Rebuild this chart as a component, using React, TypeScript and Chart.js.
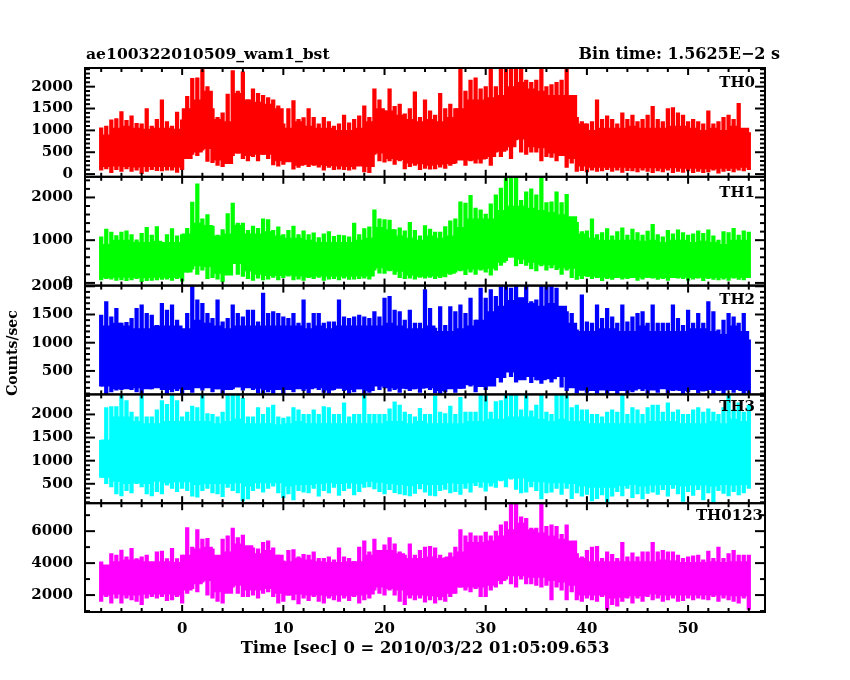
import React, { useEffect, useRef } from 'react';
import { Chart, registerables } from 'chart.js';

Chart.register(...registerables);

// spike bins, extremes of the noise
const times = [
  -8, -7.5, -7, -6.5, -6, -5.5, -5, -4.5, -4, -3.5, -3, -2.5, -2, -1.5, -1, -0.5,
  0, 0.5, 1, 1.5, 2, 2.5, 3, 3.5, 4, 4.5, 5, 5.5, 6, 6.5, 7, 7.5, 8, 8.5, 9, 9.5,
  10, 10.5, 11, 11.5, 12, 12.5, 13, 13.5, 14, 14.5, 15, 15.5, 16, 16.5, 17, 17.5, 18, 18.5, 19, 19.5,
  20, 20.5, 21, 21.5, 22, 22.5, 23, 23.5, 24, 24.5, 25, 25.5, 26, 26.5, 27, 27.5, 28, 28.5, 29, 29.5,
  30, 30.5, 31, 31.5, 32, 32.5, 33, 33.5, 34, 34.5, 35, 35.5, 36, 36.5, 37, 37.5, 38, 38.5, 39, 39.5,
  40, 40.5, 41, 41.5, 42, 42.5, 43, 43.5, 44, 44.5, 45, 45.5, 46, 46.5, 47, 47.5, 48, 48.5, 49, 49.5,
  50, 50.5, 51, 51.5, 52, 52.5, 53, 53.5, 54, 54.5, 55, 55.5, 56,
];

// solid band of each light curve, one value per second
const coreTimes = [
  -7.5, -6.5, -5.5, -4.5, -3.5, -2.5, -1.5, -0.5,
  0.5, 1.5, 2.5, 3.5, 4.5, 5.5, 6.5, 7.5, 8.5, 9.5,
  10.5, 11.5, 12.5, 13.5, 14.5, 15.5, 16.5, 17.5, 18.5, 19.5,
  20.5, 21.5, 22.5, 23.5, 24.5, 25.5, 26.5, 27.5, 28.5, 29.5,
  30.5, 31.5, 32.5, 33.5, 34.5, 35.5, 36.5, 37.5, 38.5, 39.5,
  40.5, 41.5, 42.5, 43.5, 44.5, 45.5, 46.5, 47.5, 48.5, 49.5,
  50.5, 51.5, 52.5, 53.5, 54.5, 55.5,
];

const th0High = [
  1060, 1100, 1240, 1270, 1430, 1230, 1330, 1160, 1150, 1500, 1100, 1250, 1700, 1200, 1100, 1420,
  1240, 1780, 2190, 2200, 2390, 2000, 1500, 1300, 1400, 1830, 2370, 1900, 2340, 1700, 1950, 1850, 1800, 1750, 1700, 1560,
  1150, 1500, 1680, 1250, 1290, 1500, 1300, 1150, 1300, 1200, 1100, 1150, 1350, 1170, 1250, 1330, 1560, 1300, 1950, 1700,
  1450, 1950, 1550, 1600, 1380, 1500, 1880, 1300, 1700, 1450, 1350, 1850, 1500, 1600, 1500, 2420, 1900, 2150, 2200, 1950,
  2000, 2400, 2000, 2420, 2420, 2420, 2420, 2420, 2150, 2100, 2150, 2420, 2000, 2050, 2100, 2150, 2420, 1780, 1300, 1200,
  1150, 1200, 1700, 1250, 1330, 1250, 1150, 1400, 1250, 1350, 1200, 1250, 1350, 1550, 1250, 1200, 1500, 1520, 1400, 1350,
  1200, 1250, 1200, 1150, 1450, 1150, 1200, 1300, 1350, 1250, 1620, 1000, 950,
];
const th0Low = [
  90, 120, 30, 100, 60, 120, 60, 90, 10, 60, 100, 80, 70, 90, 90, 40,
  100, 350, 450, 420, 550, 290, 260, 200, 170, 350, 420, 480, 350, 300, 400, 300, 450, 350, 210, 180,
  220, 300, 110, 150, 210, 170, 200, 160, 90, 150, 100, 110, 100, 90, 110, 310, 50, 30, 450, 300,
  270, 300, 220, 300, 120, 170, 200, 100, 130, 110, 120, 160, 130, 200, 250, 350, 200, 300, 250, 250,
  350, 200, 500, 400, 550, 350, 780, 500, 450, 500, 500, 300, 400, 380, 300, 430, 150, 250, 60, 80,
  50, 90, 60, 70, 100, 60, 90, 40, 80, 70, 50, 90, 60, 30, 70, 50, 90, 30, 60, 40,
  70, 30, 60, 30, 50, 90, 20, 60, 80, 50, 90, 70, 100,
];
const th0CoreHigh = [
  900, 1050, 1100, 1050, 1030, 1050, 1050, 1030,
  1500, 1700, 1900, 1250, 1200, 1850, 1700, 1650, 1600, 1500,
  1050, 1200, 1100, 1050, 1050, 1000, 1000, 1050, 1200, 1500,
  1450, 1350, 1250, 1200, 1250, 1200, 1300, 1500, 1700, 1700,
  1750, 1800, 2000, 2100, 1950, 1900, 1800, 1800, 1800, 1150,
  1000, 1050, 1050, 1050, 1100, 1050, 1050, 1050, 1100, 1100,
  1050, 1000, 1050, 1000, 1100, 1050,
];
const th0CoreLow = [
  170, 180, 170, 160, 170, 170, 170, 160,
  350, 500, 580, 320, 240, 480, 420, 450, 450, 300,
  280, 200, 220, 210, 190, 180, 170, 180, 170, 480,
  350, 330, 250, 230, 200, 220, 240, 320, 320, 340,
  400, 520, 620, 800, 620, 600, 480, 420, 350, 180,
  150, 150, 150, 150, 140, 140, 140, 130, 140, 130,
  130, 120, 120, 130, 130, 150,
];

const th1High = [
  1080, 1260, 1190, 1110, 1190, 1220, 1130, 1010, 1160, 1300, 1120, 1320, 930, 1130, 1270, 1100,
  1130, 1280, 1890, 2320, 1500, 1600, 1330, 1120, 1250, 1620, 1870, 1400, 1400, 1230, 1330, 1280, 1500, 1480, 1230, 1310,
  1130, 1230, 1330, 1130, 1220, 1130, 1170, 1060, 1150, 1200, 1090, 1120, 1110, 1080, 1400, 1130, 1270, 1310, 1710, 1500,
  1480, 1470, 1250, 1290, 1220, 1420, 1230, 1100, 1340, 1260, 1190, 1190, 1320, 1450, 1500, 1900, 1870, 2050, 1750, 1710,
  1610, 1850, 2060, 2220, 2480, 2460, 2460, 1930, 2130, 2200, 2060, 2470, 1880, 1900, 2130, 1880, 2070, 1400, 1420, 1200,
  1220, 1500, 1130, 1180, 1270, 1100, 1200, 1290, 1120, 1260, 1180, 1120, 1210, 1370, 1130, 1080, 1230, 1150, 1240, 1180,
  1120, 1150, 1220, 1160, 1240, 1100, 1000, 1200, 1180, 1280, 1120, 1220, 1190,
];
const th1Low = [
  70, 100, 90, 60, 70, 50, 70, 100, 30, 50, 60, 70, 80, 90, 60, 100,
  40, 250, 320, 200, 300, 100, 120, 90, 30, 300, 540, 200, 150, 100, 60, 110, 70, 90, 130, 70,
  120, 160, 70, 90, 60, 120, 100, 130, 60, 90, 100, 70, 110, 80, 90, 100, 110, 90, 300, 230,
  220, 280, 200, 120, 100, 110, 90, 130, 110, 130, 100, 120, 140, 200, 250, 280, 190, 250, 200, 300,
  250, 180, 300, 410, 520, 600, 400, 450, 410, 330, 280, 400, 300, 350, 310, 200, 300, 120, 80, 100,
  150, 100, 120, 50, 100, 80, 120, 90, 100, 120, 60, 90, 130, 110, 80, 100, 60, 120, 110, 100,
  60, 90, 110, 50, 100, 80, 70, 90, 60, 110, 80, 70, 120,
];
const th1CoreHigh = [
  900, 1000, 1000, 950, 950, 980, 950, 950,
  1150, 1400, 1350, 1100, 1150, 1350, 1150, 1150, 1200, 1100,
  1050, 1050, 1000, 950, 950, 950, 950, 1000, 1050, 1300,
  1250, 1100, 1050, 1000, 1100, 1050, 1100, 1300, 1500, 1500,
  1500, 1700, 1800, 1800, 1750, 1700, 1650, 1600, 1550, 1150,
  1050, 1000, 1000, 1000, 1000, 980, 1000, 950, 1000, 1000,
  950, 980, 950, 900, 1000, 1000,
];
const th1CoreLow = [
  120, 130, 130, 120, 120, 130, 120, 130,
  250, 400, 380, 220, 180, 450, 280, 200, 170, 170,
  180, 160, 140, 160, 150, 150, 150, 160, 160, 350,
  300, 270, 180, 150, 160, 160, 220, 300, 320, 320,
  340, 480, 600, 550, 480, 430, 420, 350, 340, 170,
  150, 130, 120, 130, 120, 130, 130, 120, 120, 130,
  120, 120, 120, 120, 130, 120,
];

const th2High = [
  1490, 1730, 1460, 1610, 1350, 1360, 1430, 1610, 1670, 1520, 1490, 1310, 1700, 1580, 1670, 1400,
  1200, 1520, 2010, 1760, 1700, 1520, 1430, 1760, 1370, 1430, 1670, 1520, 1460, 1580, 1580, 1370, 1880, 1520, 1550, 1520,
  1460, 1430, 1520, 1350, 1760, 1350, 1520, 1520, 1350, 1370, 1370, 1760, 1460, 1430, 1460, 1490, 1460, 1430, 1550, 1460,
  1790, 1820, 1580, 1550, 1400, 1580, 1350, 1350, 1940, 1610, 1260, 1640, 1310, 1640, 1550, 1670, 1520, 1790, 1400, 1970,
  1790, 1940, 1820, 1990, 2010, 1970, 2010, 1790, 2000, 1730, 1760, 2010, 2000, 2010, 1970, 1520, 1550, 1520, 1230, 1850,
  1370, 1350, 1670, 1430, 1610, 1460, 1350, 1670, 1370, 1460, 1520, 1550, 1350, 1670, 1350, 1350, 1350, 1670, 1430, 1310,
  1580, 1350, 1520, 1350, 1730, 1550, 1230, 1400, 1520, 1460, 1350, 1520, 1050,
];
const th2Low = [
  230, 90, 130, 160, 170, 270, 170, 130, 90, 200, 180, 250, 170, 100, 130, 150,
  90, 200, 120, 260, 160, 210, 130, 180, 100, 260, 180, 220, 160, 290, 170, 110, 100, 130, 100, 190,
  90, 180, 130, 200, 150, 110, 200, 170, 120, 90, 170, 210, 150, 100, 130, 180, 100, 120, 290, 170,
  200, 140, 170, 120, 200, 150, 180, 120, 250, 170, 110, 90, 130, 280, 120, 190, 280, 230, 130, 260,
  170, 320, 400, 300, 620, 400, 300, 350, 450, 290, 340, 280, 400, 300, 520, 210, 150, 260, 110, 160,
  120, 150, 100, 200, 100, 170, 90, 150, 100, 130, 230, 150, 90, 200, 120, 260, 110, 150, 170, 90,
  130, 190, 110, 140, 210, 90, 150, 90, 200, 120, 170, 100, 90,
];
const th2CoreHigh = [
  1300, 1350, 1300, 1250, 1250, 1300, 1300, 1300,
  1250, 1400, 1350, 1300, 1250, 1300, 1300, 1300, 1300, 1300,
  1300, 1300, 1250, 1300, 1250, 1300, 1300, 1300, 1300, 1300,
  1350, 1300, 1250, 1250, 1300, 1200, 1200, 1250, 1300, 1400,
  1550, 1650, 1750, 1800, 1700, 1650, 1700, 1650, 1350, 1200,
  1200, 1250, 1250, 1200, 1200, 1300, 1200, 1200, 1200, 1200,
  1250, 1250, 1200, 1150, 1300, 1200,
];
const th2CoreLow = [
  230, 180, 180, 200, 180, 200, 170, 180,
  170, 200, 200, 180, 170, 210, 200, 190, 170, 170,
  170, 180, 180, 200, 160, 190, 170, 180, 150, 230,
  200, 190, 180, 190, 200, 150, 180, 190, 250, 220,
  230, 380, 480, 340, 400, 340, 360, 400, 200, 160,
  150, 160, 150, 150, 160, 180, 160, 180, 160, 150,
  170, 150, 170, 160, 170, 150,
];

const th3High = [
  1440, 2150, 2170, 2170, 2430, 2300, 2050, 1950, 2430, 1950, 1950, 2100, 2300, 2220, 2430, 2300,
  1950, 2050, 2180, 2150, 2430, 2020, 2000, 1950, 2050, 2430, 2430, 2430, 2350, 1950, 1950, 2150, 2000, 2150, 2200, 1950,
  1920, 1950, 2150, 2100, 2000, 2000, 2100, 2000, 2170, 2150, 2000, 2000, 2250, 1950, 2000, 2000, 2430, 2000, 2000, 2000,
  2000, 2120, 2270, 2200, 2050, 2000, 1950, 2130, 2000, 2000, 2400, 2050, 2020, 2180, 2000, 2370, 2050, 2050, 2050, 2430,
  2430, 2050, 2280, 2300, 2430, 2430, 2430, 2100, 2430, 2080, 2200, 2430, 2050, 2000, 2430, 2430, 2430, 2150, 2200, 2100,
  2100, 2000, 2000, 1950, 2050, 2100, 2050, 2430, 2000, 2150, 2100, 2000, 2150, 2200, 2200, 2050, 2250, 2050, 2100, 2000,
  2000, 2100, 2150, 2050, 2120, 2050, 2000, 2150, 2430, 2100, 2250, 2050, 2200,
];
const th3Low = [
  640, 500, 430, 280, 240, 350, 300, 500, 430, 280, 240, 330, 280, 470, 400, 330,
  400, 350, 230, 210, 350, 400, 300, 280, 220, 420, 350, 300, 130, 170, 350, 400, 320, 400, 450, 300,
  200, 280, 150, 350, 320, 300, 400, 230, 350, 300, 420, 250, 350, 400, 260, 330, 420, 430, 390, 330,
  280, 370, 310, 280, 260, 240, 290, 390, 320, 250, 240, 350, 380, 300, 330, 270, 400, 320, 460, 420,
  340, 450, 420, 560, 430, 600, 380, 300, 320, 430, 350, 170, 300, 320, 400, 270, 400, 180, 300, 230,
  270, 130, 180, 260, 100, 230, 330, 240, 400, 200, 280, 170, 290, 320, 270, 370, 230, 400, 280, 120,
  330, 250, 370, 150, 300, 100, 350, 290, 240, 330, 260, 300, 400,
];
const th3CoreHigh = [
  1450, 1950, 1950, 1850, 1800, 1800, 1850, 1850,
  1850, 1850, 1850, 1800, 1850, 1900, 1800, 1800, 1800, 1780,
  1800, 1850, 1800, 1800, 1800, 1800, 1800, 1800, 1800, 1800,
  1850, 1850, 1800, 1850, 1800, 1800, 1800, 1800, 1850, 1850,
  1900, 1900, 1950, 1950, 1950, 1900, 1850, 1900, 1850, 1850,
  1800, 1800, 1800, 1800, 1800, 1800, 1850, 1850, 1850, 1800,
  1800, 1800, 1850, 1800, 1900, 1850,
];
const th3CoreLow = [
  640, 550, 500, 520, 500, 550, 520, 540,
  540, 480, 500, 500, 500, 520, 450, 520, 520, 520,
  450, 480, 480, 500, 520, 500, 520, 500, 550, 530,
  500, 480, 460, 500, 480, 480, 520, 500, 520, 540,
  520, 580, 620, 620, 550, 540, 520, 520, 500, 450,
  420, 420, 420, 460, 480, 450, 470, 480, 480, 450,
  470, 470, 450, 480, 470, 480,
];

const th0123High = [
  4080, 3770, 4600, 4500, 4810, 4400, 4920, 4290, 4400, 4500, 3980, 4710, 4750, 4290, 4920, 4290,
  4500, 6230, 5000, 6100, 5500, 5550, 4900, 4300, 5500, 5700, 6200, 5600, 5750, 4800, 4950, 4900, 5300, 5400, 4950, 4500,
  4150, 4800, 4850, 4400, 4550, 4500, 4700, 4300, 4300, 4400, 4200, 4950, 4400, 4300, 4100, 5000, 5400, 4700, 5500, 4700,
  5150, 5600, 5200, 4700, 4500, 5200, 4500, 4800, 5000, 5050, 4950, 4500, 4350, 4650, 5000, 6100, 5700, 5900, 5700, 5700,
  5950, 5700, 6000, 6400, 6600, 7700, 7700, 6900, 6800, 6200, 6200, 7700, 6300, 6400, 6300, 5800, 6400, 5100, 4600, 4400,
  4800, 5000, 5050, 4300, 4700, 4550, 4300, 5300, 4400, 4650, 4400, 4700, 4700, 5300, 4700, 4800, 4700, 4700, 4500, 4300,
  4400, 4450, 4500, 4200, 4750, 4300, 5000, 4300, 4600, 4800, 4500, 4500, 4500,
];
const th0123Low = [
  1600, 1900, 1500, 1800, 1500, 1800, 1700, 1600, 1400, 1800, 1900, 1800, 1900, 1650, 1700, 1900,
  1500, 2100, 2400, 2200, 2800, 2000, 1800, 1600, 1500, 2300, 2500, 2100, 1900, 1900, 2000, 1800, 2100, 2200, 1900, 1500,
  1600, 2000, 1700, 1450, 1800, 1650, 1900, 1600, 1500, 1800, 1700, 1600, 1800, 1650, 1900, 1500, 1700, 1800, 2300, 2100,
  2000, 2300, 2000, 1600, 1400, 1800, 1700, 1800, 1550, 1700, 1500, 1700, 1600, 1900, 2100, 2500, 2300, 2200, 2400, 1900,
  1900, 2300, 2500, 2700, 3000, 2700, 2500, 3000, 2700, 2700, 2600, 2500, 2600, 1700, 2500, 2300, 1700, 2200, 1700, 1600,
  1800, 1700, 1600, 1900, 1100, 1400, 1300, 1600, 1800, 1500, 1800, 1600, 1900, 1700, 1800, 1600, 1700, 1800, 1600, 1650,
  1800, 1700, 1800, 1750, 1700, 1900, 1600, 1800, 1700, 1600, 1500, 1800, 1100,
];
const th0123CoreHigh = [
  3900, 4100, 4200, 4200, 4100, 4100, 4100, 4050,
  4500, 4900, 5000, 4500, 4700, 5200, 5100, 4600, 4800, 4500,
  4100, 4300, 4200, 4100, 4050, 4050, 4100, 4100, 4500, 4800,
  4800, 4600, 4300, 4300, 4400, 4300, 4400, 4700, 5300, 5300,
  5400, 5700, 6100, 6500, 6100, 5900, 5700, 5500, 5400, 4300,
  4100, 4100, 4100, 4100, 4100, 4100, 4100, 4200, 4150, 4050,
  4050, 4050, 4100, 4050, 4100, 4100,
];
const th0123CoreLow = [
  2000, 2050, 2000, 2000, 2050, 2050, 2050, 2000,
  2300, 2700, 2900, 2200, 2100, 2600, 2300, 2300, 2400, 2100,
  2000, 2050, 2000, 2000, 1950, 2000, 1950, 2000, 2050, 2500,
  2400, 2300, 2000, 2000, 1950, 1900, 2100, 2500, 2500, 2500,
  2600, 2900, 3200, 3200, 3100, 3100, 2900, 2800, 2600, 2000,
  2000, 2000, 1800, 1850, 1950, 1950, 2050, 2000, 2000, 2000,
  2000, 2000, 2000, 2000, 1950, 1950,
];

const xMajorTicks = [0, 10, 20, 30, 40, 50];
const xMinorTicks = [-8, -6, -4, -2, 2, 4, 6, 8, 12, 14, 16, 18, 22, 24, 26, 28, 32, 34, 36, 38, 42, 44, 46, 48, 52, 54, 56];

const th0Major = [0, 500, 1000, 1500, 2000];
const th0Minor = [100, 200, 300, 400, 600, 700, 800, 900, 1100, 1200, 1300, 1400, 1600, 1700, 1800, 1900, 2100, 2200, 2300, 2400];
const th1Major = [0, 1000, 2000];
const th1Minor = [200, 400, 600, 800, 1200, 1400, 1600, 1800, 2200, 2400];
const th2Major = [500, 1000, 1500, 2000];
const th2Minor = [100, 200, 300, 400, 600, 700, 800, 900, 1100, 1200, 1300, 1400, 1600, 1700, 1800, 1900];
const th3Major = [500, 1000, 1500, 2000];
const th3Minor = [100, 200, 300, 400, 600, 700, 800, 900, 1100, 1200, 1300, 1400, 1600, 1700, 1800, 1900, 2100, 2200, 2300, 2400];
const th0123Major = [2000, 4000, 6000];
const th0123Minor = [1000, 3000, 5000, 7000];

const FONT = '"DejaVu Serif", serif';

const panels = [
  { id: 'y0', name: 'TH0', color: '#ff0000', high: th0High, low: th0Low, coreHigh: th0CoreHigh, coreLow: th0CoreLow, min: -62, max: 2427, major: th0Major, minor: th0Minor, labelRight: 755, labelY: 83 },
  { id: 'y1', name: 'TH1', color: '#00ff00', high: th1High, low: th1Low, coreHigh: th1CoreHigh, coreLow: th1CoreLow, min: -63, max: 2483, major: th1Major, minor: th1Minor, labelRight: 755, labelY: 193 },
  { id: 'y2', name: 'TH2', color: '#0000ff', high: th2High, low: th2Low, coreHigh: th2CoreHigh, coreLow: th2CoreLow, min: 84, max: 2012, major: th2Major, minor: th2Minor, labelRight: 755, labelY: 300 },
  { id: 'y3', name: 'TH3', color: '#00ffff', high: th3High, low: th3Low, coreHigh: th3CoreHigh, coreLow: th3CoreLow, min: 80, max: 2433, major: th3Major, minor: th3Minor, labelRight: 755, labelY: 407 },
  { id: 'y4', name: 'TH0123', color: '#ff00ff', high: th0123High, low: th0123Low, coreHigh: th0123CoreHigh, coreLow: th0123CoreLow, min: 940, max: 7750, major: th0123Major, minor: th0123Minor, labelRight: 763, labelY: 516 },
];

// ticks point inwards on all four sides of every panel, chart.js can't do that itself
const framePlugin = {
  id: 'frame',
  afterDatasetsDraw(chart: any) {
    const { ctx, chartArea, scales } = chart;
    const x = scales.x;
    ctx.save();
    ctx.strokeStyle = '#000';
    ctx.fillStyle = '#000';
    ctx.lineWidth = 2;

    const line = (x1: number, y1: number, x2: number, y2: number) => {
      ctx.beginPath();
      ctx.moveTo(x1, y1);
      ctx.lineTo(x2, y2);
      ctx.stroke();
    };

    panels.forEach((p) => {
      const y = scales[p.id];
      ctx.strokeRect(chartArea.left, y.top, chartArea.right - chartArea.left, y.bottom - y.top);
      xMajorTicks.forEach((v) => {
        const px = x.getPixelForValue(v);
        line(px, y.top, px, y.top + 7);
        line(px, y.bottom, px, y.bottom - 7);
      });
      xMinorTicks.forEach((v) => {
        const px = x.getPixelForValue(v);
        line(px, y.top, px, y.top + 4);
        line(px, y.bottom, px, y.bottom - 4);
      });
      p.major.forEach((v) => {
        const py = y.getPixelForValue(v);
        line(chartArea.left, py, chartArea.left + 10, py);
        line(chartArea.right, py, chartArea.right - 10, py);
      });
      p.minor.forEach((v) => {
        const py = y.getPixelForValue(v);
        line(chartArea.left, py, chartArea.left + 5, py);
        line(chartArea.right, py, chartArea.right - 5, py);
      });
      ctx.font = `bold 15px ${FONT}`;
      ctx.textAlign = 'right';
      ctx.textBaseline = 'middle';
      ctx.fillText(p.name, p.labelRight, p.labelY);
    });

    ctx.font = `bold 15.6px ${FONT}`;
    ctx.textBaseline = 'middle';
    ctx.textAlign = 'left';
    ctx.fillText('ae100322010509_wam1_bst', 86, 55);
    ctx.font = `bold 16px ${FONT}`;
    ctx.textAlign = 'right';
    ctx.fillText('Bin time: 1.5625E−2 s', 780, 55);

    ctx.font = `bold 14px ${FONT}`;
    ctx.translate(13, 353);
    ctx.rotate(-Math.PI / 2);
    ctx.textAlign = 'center';
    ctx.fillText('Counts/sec', 0, 0);
    ctx.restore();
  },
};

const App: React.FC = () => {
  const canvasRef = useRef<HTMLCanvasElement>(null);

  useEffect(() => {
    if (!canvasRef.current) return;

    // chart.js places left-hand stacked axes from the last one down, so bottom panel goes first
    const yScales: any = {};
    [...panels].reverse().forEach((p) => {
      yScales[p.id] = {
        type: 'linear',
        position: 'left',
        stack: 'panels',
        stackWeight: 1,
        min: p.min,
        max: p.max,
        afterFit: (s: any) => {
          s.width = 65;
        },
        afterBuildTicks: (s: any) => {
          s.ticks = p.major.map((value) => ({ value }));
        },
        grid: { display: false, drawTicks: false },
        border: { display: false },
        ticks: {
          autoSkip: false,
          padding: 12,
          color: '#000',
          font: { family: FONT, size: 15, weight: 'bold' },
          callback: (value: number) => String(value),
        },
      };
    });

    const datasets: any[] = [];
    panels.forEach((p) => {
      datasets.push({
        label: p.name + ' band',
        yAxisID: p.id,
        xAxisID: 'x',
        data: coreTimes.map((t, i) => ({ x: t, y: [p.coreLow[i], p.coreHigh[i]] })),
        backgroundColor: p.color,
        borderWidth: 0,
        grouped: false,
        barThickness: 10.2,
      });
      datasets.push({
        label: p.name,
        yAxisID: p.id,
        xAxisID: 'x',
        data: times.map((t, i) => ({ x: t, y: [p.low[i], p.high[i]] })),
        backgroundColor: p.color,
        borderWidth: 0,
        grouped: false,
        barThickness: 3.6,
      });
    });

    const chart = new Chart(canvasRef.current, {
      type: 'bar',
      data: { datasets },
      options: {
        responsive: false,
        animation: false,
        devicePixelRatio: 1,
        layout: { padding: { left: 20, right: 85, top: 68, bottom: 0 } },
        plugins: { legend: { display: false }, tooltip: { enabled: false }, title: { display: false } },
        scales: {
          x: {
            type: 'linear',
            min: -9.6,
            max: 57.6,
            offset: false,
            afterFit: (s: any) => {
              s.height = 68;
            },
            afterBuildTicks: (s: any) => {
              s.ticks = xMajorTicks.map((value) => ({ value }));
            },
            grid: { display: false, drawTicks: false },
            border: { display: false },
            ticks: {
              autoSkip: false,
              maxRotation: 0,
              padding: 8,
              color: '#000',
              font: { family: FONT, size: 15, weight: 'bold' },
              callback: (value: number) => String(value),
            },
            title: {
              display: true,
              text: 'Time [sec] 0 = 2010/03/22 01:05:09.653',
              color: '#000',
              font: { family: FONT, size: 16.4, weight: 'bold' },
              padding: { top: 0, bottom: 21 },
            },
          },
          ...yScales,
        },
      },
      plugins: [framePlugin],
    });

    return () => {
      chart.destroy();
    };
  }, []);

  return <canvas ref={canvasRef} width={850} height={680} style={{ position: 'absolute', left: 0, top: 0 }} />;
};

export default App;
